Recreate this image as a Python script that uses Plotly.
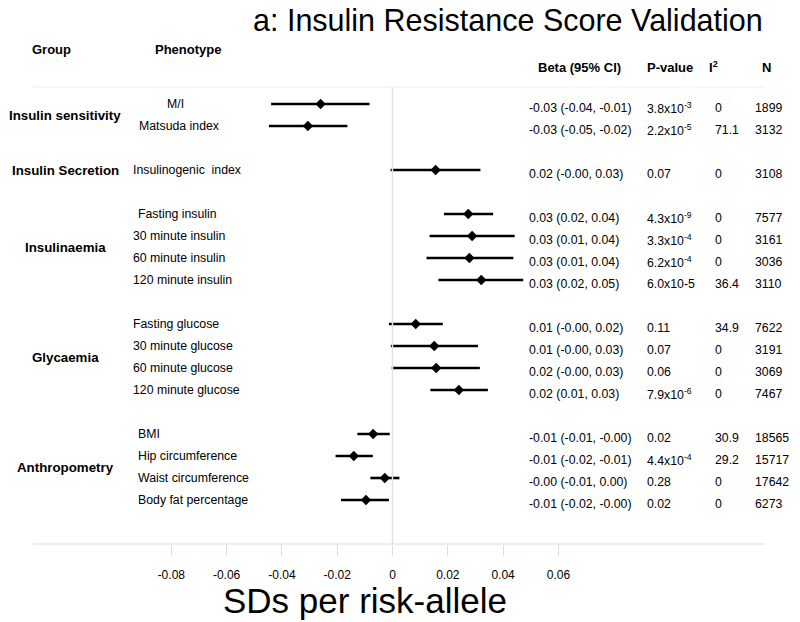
import plotly.graph_objects as go

# ---------------- data ----------------
groups = ["Insulin sensitivity", "Insulin Secretion", "Insulinaemia", "Glycaemia", "Anthropometry"]
group_sizes = [2, 1, 4, 4, 4]

phenotypes = ["M/I", "Matsuda index", "Insulinogenic  index",
              "Fasting insulin", "30 minute insulin", "60 minute insulin", "120 minute insulin",
              "Fasting glucose", "30 minute glucose", "60 minute glucose", "120 minute glucose",
              "BMI", "Hip circumference", "Waist circumference", "Body fat percentage"]

beta = [-0.026, -0.0306, 0.0156,
        0.0274, 0.0288, 0.0278, 0.0321,
        0.0084, 0.0151, 0.0158, 0.0240,
        -0.0070, -0.0140, -0.0028, -0.0096]
ci_low = [-0.0439, -0.0447, -0.0007,
          0.0186, 0.0134, 0.0123, 0.0166,
          -0.0013, -0.0006, -0.0003, 0.0137,
          -0.0127, -0.0206, -0.0080, -0.0186]
ci_high = [-0.0083, -0.0163, 0.0318,
           0.0364, 0.0442, 0.0437, 0.0473,
           0.0182, 0.0309, 0.0316, 0.0345,
           -0.0010, -0.0071, 0.0025, -0.0013]

beta_text = ["-0.03 (-0.04, -0.01)", "-0.03 (-0.05, -0.02)", "0.02 (-0.00, 0.03)",
             "0.03 (0.02, 0.04)", "0.03 (0.01, 0.04)", "0.03 (0.01, 0.04)", "0.03 (0.02, 0.05)",
             "0.01 (-0.00, 0.02)", "0.01 (-0.00, 0.03)", "0.02 (-0.00, 0.03)", "0.02 (0.01, 0.03)",
             "-0.01 (-0.01, -0.00)", "-0.01 (-0.02, -0.01)", "-0.00 (-0.01, 0.00)", "-0.01 (-0.02, -0.00)"]
p_text = ["3.8x10<sup>-3</sup>", "2.2x10<sup>-5</sup>", "0.07",
          "4.3x10<sup>-9</sup>", "3.3x10<sup>-4</sup>", "6.2x10<sup>-4</sup>", "6.0x10-5",
          "0.11", "0.07", "0.06", "7.9x10<sup>-6</sup>",
          "0.02", "4.4x10<sup>-4</sup>", "0.28", "0.02"]
i2_text = ["0", "71.1", "0",
           "0", "0", "0", "36.4",
           "34.9", "0", "0", "0",
           "30.9", "29.2", "0", "0"]
n_text = ["1899", "3132", "3108",
          "7577", "3161", "3036", "3110",
          "7622", "3191", "3069", "7467",
          "18565", "15717", "17642", "6273"]

tick_vals = [-0.08, -0.06, -0.04, -0.02, 0, 0.02, 0.04, 0.06]
tick_labels = ["-0.08", "-0.06", "-0.04", "-0.02", "0", "0.02", "0.04", "0.06"]

title_text = "a: Insulin Resistance Score Validation"
x_title = "SDs per risk-allele"
headers_left = ["Group", "Phenotype"]
headers_right = ["Beta (95% CI)", "P-value", "I<sup>2</sup>", "N"]

# ---------------- layout helpers ----------------
W, H = 800, 622
FONT = "Liberation Sans, Arial, sans-serif"
ROW0_PX, ROW_PX = 104, 22  # pixel y of first row, pixel per row


def px2x(px):
    return px / W


def px2y(py):
    return 1 - py / H


# row positions: one blank row between groups
rows = []
group_center = []
r = 0
for g, n in zip(groups, group_sizes):
    start = r
    for _ in range(n):
        rows.append(r)
        r += 1
    group_center.append((start + r - 1) / 2)
    r += 1

# x scale: 0 at 392.5 px, 2765 px per unit
X0_PX, X_SCALE = 392.5, 2765.0
x_range = [-0.1, 0.1]
dom = [(X0_PX + x_range[0] * X_SCALE) / W, (X0_PX + x_range[1] * X_SCALE) / W]

fig = go.Figure()
fig.add_trace(go.Scatter(
    x=beta, y=rows, mode="markers",
    marker=dict(symbol="diamond", size=8, color="black"),
    error_x=dict(type="data", symmetric=False,
                 array=[h - b for h, b in zip(ci_high, beta)],
                 arrayminus=[b - l for l, b in zip(ci_low, beta)],
                 color="black", thickness=2.6, width=0),
    hoverinfo="skip", showlegend=False,
))

annotations = []
# title
annotations.append(dict(text=title_text, x=px2x(508), y=px2y(20), xref="paper", yref="paper",
                        xanchor="center", yanchor="middle", showarrow=False,
                        font=dict(size=30.5, family=FONT, color="black")))
# x axis title
annotations.append(dict(text=x_title, x=px2x(365), y=px2y(600), xref="paper", yref="paper",
                        xanchor="center", yanchor="middle", showarrow=False,
                        font=dict(size=35, family=FONT, color="black")))
# left headers
for txt, xp in zip(headers_left, [30, 153]):
    annotations.append(dict(text=f"<b>{txt}</b>", x=px2x(xp), y=px2y(50), xref="paper", yref="paper",
                            xanchor="left", yanchor="middle", showarrow=False,
                            font=dict(size=13, family=FONT, color="black")))
# right headers
for txt, xp in zip(headers_right, [536, 645, 707, 760]):
    annotations.append(dict(text=f"<b>{txt}</b>", x=px2x(xp), y=px2y(67), xref="paper", yref="paper",
                            xanchor="left", yanchor="middle", showarrow=False,
                            font=dict(size=13, family=FONT, color="black")))
# group labels
for g, c in zip(groups, group_center):
    annotations.append(dict(text=f"<b>{g}</b>", x=px2x(65), y=c, xref="paper", yref="y",
                            xanchor="center", yanchor="middle", showarrow=False,
                            font=dict(size=13.3, family=FONT, color="black")))
# phenotype labels (left edge position in px)
label_x = {"M/I": 165, "Matsuda index": 137, "Fasting insulin": 136,
           "BMI": 136, "Hip circumference": 136, "Waist circumference": 136,
           "Body fat percentage": 136}
for ph, yr in zip(phenotypes, rows):
    annotations.append(dict(text=ph, x=px2x(label_x.get(ph, 131)), y=yr, xref="paper", yref="y",
                            xanchor="left", yanchor="middle", showarrow=False,
                            font=dict(size=12.3, family=FONT, color="black")))
# table columns
for col, xp in zip([beta_text, p_text, i2_text, n_text], [527, 645, 713, 753]):
    for t, yr in zip(col, rows):
        annotations.append(dict(text=t, x=px2x(xp), y=yr, xref="paper", yref="y",
                                xanchor="left", yanchor="middle", showarrow=False, yshift=-4,
                                font=dict(size=12.3, family=FONT, color="black")))

shapes = [
    # top separator
    dict(type="line", xref="paper", yref="paper", x0=px2x(33), x1=px2x(765),
         y0=px2y(87), y1=px2y(87), line=dict(color="#eeeeee", width=1)),
    # bottom axis line
    dict(type="line", xref="paper", yref="paper", x0=px2x(33), x1=px2x(765),
         y0=px2y(544), y1=px2y(544), line=dict(color="#dddddd", width=1.2)),
    # zero reference line
    dict(type="line", xref="x", yref="paper", x0=0, x1=0,
         y0=px2y(87), y1=px2y(544), line=dict(color="#e2e2e2", width=1.5)),
]

fig.update_layout(
    width=W, height=H,
    margin=dict(l=0, r=0, t=0, b=0),
    paper_bgcolor="white", plot_bgcolor="white",
    annotations=annotations, shapes=shapes,
    font=dict(family=FONT, color="black"),
    xaxis=dict(domain=dom, range=x_range, anchor="free", position=px2y(544),
               tickvals=tick_vals, ticktext=tick_labels, ticks="outside", ticklen=11,
               tickcolor="#dddddd", tickwidth=1, showgrid=False, zeroline=False,
               showline=False, ticklabelstandoff=9, fixedrange=True,
               tickfont=dict(size=12, family=FONT, color="black")),
    yaxis=dict(domain=[0, 1], range=[(H - ROW0_PX) / ROW_PX, -ROW0_PX / ROW_PX],
               visible=False, showgrid=False, zeroline=False, fixedrange=True),
)

fig.write_html("out.html", config={"displayModeBar": False},
               post_script="document.body.style.margin='0';document.body.style.overflow='hidden';")
